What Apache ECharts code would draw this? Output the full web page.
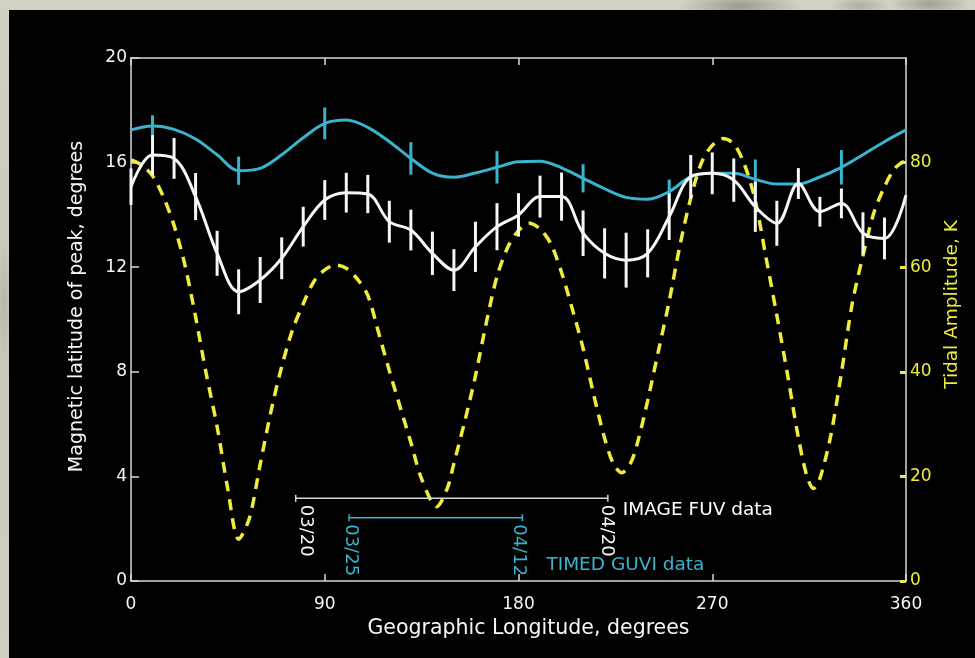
<!DOCTYPE html>
<html>
<head>
<meta charset="utf-8">
<script src="https://cdn.jsdelivr.net/npm/echarts@6/dist/echarts.min.js"></script>
<style>
  html, body { margin: 0; padding: 0; width: 975px; height: 658px; overflow: hidden; }
  body {
    background:
      radial-gradient(ellipse 60px 14px at 740px 6px, rgba(90,88,80,0.45), transparent),
      radial-gradient(ellipse 40px 12px at 930px 4px, rgba(90,88,80,0.4), transparent),
      radial-gradient(ellipse 30px 10px at 860px 6px, rgba(110,108,100,0.35), transparent),
      radial-gradient(ellipse 8px 60px at 4px 300px, rgba(150,148,138,0.35), transparent),
      linear-gradient(180deg, #d3d1c3 0%, #cac8b9 50%, #d1cfc1 100%);
  }
  #chart { position: absolute; left: 9px; top: 10px; width: 966px; height: 648px; background: #000; }
</style>
</head>
<body>
<div id="chart"></div>
<script>
// Longitude grid of the tidal-amplitude curve (degrees) and its amplitude (K)
const tidalLon = [0, 5, 10, 15, 20, 25, 30, 35, 40, 45, 50, 55, 60, 65, 70, 75, 80, 85, 90, 95,
  100, 105, 110, 115, 120, 125, 130, 135, 142, 147, 150, 155, 160, 165, 170, 175, 180, 185, 190,
  195, 200, 205, 210, 215, 220, 224, 228, 232, 235, 240, 245, 250, 255, 260, 265, 270, 275, 280,
  285, 290, 295, 300, 305, 310, 314, 317, 320, 325, 330, 335, 340, 345, 350, 355, 360];
const tidalAmp = [80.5, 79.5, 77.5, 73.5, 68, 60.5, 50.5, 39.5, 29.5, 17.5, 8, 12, 22.3, 32.4, 41, 48, 53, 57.3, 59.5, 60.4,
  59.8, 57.8, 54.6, 47.5, 40.2, 33.3, 26.5, 19.5, 14.2, 17.8, 22.5, 30.5, 39.2, 49.3, 58.2, 63.8, 67, 68.4, 67.3,
  64.5, 59, 52, 44.5, 35.5, 27.3, 22.5, 20.7, 22.5, 26, 34.5, 44, 53.5, 64.2, 73.2, 80, 83.3, 84.6, 83.6,
  79.6, 72.7, 61.8, 50.8, 39.4, 27.4, 20, 17.7, 19.6, 27.7, 39.8, 53, 62.2, 70.3, 75.4, 79, 80.5];

// TIMED GUVI peak latitude (degrees), every 10 degrees of longitude
const guviLon = [0, 10, 20, 30, 40, 50, 60, 70, 80, 90, 100, 110, 120, 130, 140, 150, 160, 170, 180,
  190, 200, 210, 220, 230, 240, 250, 260, 270, 280, 290, 300, 310, 320, 330, 340, 350, 360];
const guviLat = [17.25, 17.4, 17.27, 16.9, 16.3, 15.69, 15.78, 16.3, 16.95, 17.5, 17.63, 17.35, 16.8, 16.16,
  15.6, 15.44, 15.6, 15.82, 16.03, 16.05, 15.8, 15.4, 15.0, 14.67, 14.6, 14.89, 15.46, 15.59, 15.59,
  15.36, 15.18, 15.18, 15.45, 15.82, 16.3, 16.8, 17.25];
// GUVI error bars: longitude, half-width
const guviErrLon = [10, 50, 90, 130, 170, 210, 250, 290, 330];
const guviErr = [0.41, 0.54, 0.61, 0.62, 0.62, 0.54, 0.46, 0.76, 0.66];

// IMAGE FUV peak latitude (degrees), every 10 degrees of longitude
const fuvLon = [0, 10, 20, 30, 40, 50, 60, 70, 80, 90, 100, 110, 120, 130, 140, 150, 160, 170, 180,
  190, 200, 210, 220, 230, 240, 250, 260, 270, 280, 290, 300, 310, 320, 330, 340, 350, 360];
const fuvLat = [15.08, 16.29, 16.16, 14.7, 12.53, 11.06, 11.51, 12.34, 13.55, 14.57, 14.85, 14.8, 13.74, 13.42,
  12.53, 11.89, 12.78, 13.55, 14.0, 14.7, 14.7, 13.3, 12.53, 12.27, 12.53, 13.93, 15.46, 15.59, 15.33,
  14.31, 13.68, 15.2, 14.12, 14.44, 13.3, 13.1, 14.76];
// FUV error half-widths (no bar at 360)
const fuvErr = [0.7, 0.76, 0.78, 0.9, 0.86, 0.86, 0.88, 0.8, 0.76, 0.76, 0.76, 0.73, 0.8, 0.78,
  0.83, 0.8, 0.96, 0.9, 0.83, 0.8, 0.92, 0.87, 0.96, 1.05, 0.92, 0.89, 0.83, 0.8, 0.83,
  0.96, 0.86, 0.59, 0.57, 0.57, 0.8, 0.8, null];

// Observation periods shown along the bottom
const fuvSpan = [76.5, 221.5];
const fuvSpanLat = 3.16;
const fuvDates = ['03/20', '04/20'];
const fuvName = 'IMAGE FUV data';
const guviSpan = [101.3, 181.8];
const guviSpanLat = 2.42;
const guviDates = ['03/25', '04/12'];
const guviName = 'TIMED GUVI data';

// Axis tick values
const lonTicks = [0, 90, 180, 270, 360];
const latTicks = [0, 4, 8, 12, 16, 20];
const ampTicks = [0, 20, 40, 60, 80];

const WHITE = '#f6f6f6';
const CYAN = '#38b4cf';
const YELLOW = '#efec3c';
const FRAME = '#d6d6d6';
const FONT = 'DejaVu Sans';

function pairs(xs, ys) { return xs.map((x, i) => [x, ys[i]]); }
function errData(xs, ys, es) {
  const out = [];
  xs.forEach((x, i) => { if (es[i] != null) out.push([x, ys[i] - es[i], ys[i] + es[i]]); });
  return out;
}
function errRenderer(color, width) {
  return function (params, api) {
    const a = api.coord([api.value(0), api.value(1)]);
    const b = api.coord([api.value(0), api.value(2)]);
    return { type: 'line', shape: { x1: a[0], y1: a[1], x2: b[0], y2: b[1] },
      style: { stroke: color, lineWidth: width } };
  };
}
function guviAt(lon) { return guviLat[guviLon.indexOf(lon)]; }
// end points of a period bar, with the date written downwards under each end
function spanPoints(span, lat, dates, shifts) {
  return span.map((x, i) => ({ value: [x, lat], label: { formatter: dates[i], position: [shifts[i], 10] } }));
}

const chart = echarts.init(document.getElementById('chart'), null, { renderer: 'canvas' });

const dateLabel = (color) => ({
  show: true, rotate: -90, align: 'left', verticalAlign: 'middle',
  color: color, fontSize: 18, fontFamily: FONT
});

const option = {
  backgroundColor: '#000',
  animation: false,
  grid: { left: 122, right: 69, top: 48, bottom: 77 },
  xAxis: [{
    type: 'value', min: lonTicks[0], max: lonTicks[lonTicks.length - 1], interval: 90,
    position: 'bottom',
    name: 'Geographic Longitude, degrees', nameLocation: 'middle', nameGap: 37,
    nameTextStyle: { color: WHITE, fontSize: 20.5, fontFamily: FONT, padding: [0, 0, 0, 20] },
    axisLine: { show: true, onZero: false, lineStyle: { color: FRAME, width: 1.5 } },
    axisTick: { show: true, inside: true, length: 7, lineStyle: { color: FRAME, width: 1.5 } },
    axisLabel: { color: WHITE, fontSize: 17, fontFamily: FONT, margin: 15 },
    splitLine: { show: false }
  }, {
    type: 'value', min: 0, max: 360, interval: 90, position: 'top',
    axisLine: { show: true, onZero: false, lineStyle: { color: FRAME, width: 1.5 } },
    axisTick: { show: true, inside: true, length: 7, lineStyle: { color: FRAME, width: 1.5 } },
    axisLabel: { show: false }, splitLine: { show: false }
  }],
  yAxis: [{
    type: 'value', min: latTicks[0], max: latTicks[latTicks.length - 1], interval: 4,
    position: 'left',
    name: 'Magnetic latitude of peak, degrees', nameLocation: 'middle', nameGap: 44, nameRotate: 90,
    nameTextStyle: { color: WHITE, fontSize: 19, fontFamily: FONT, padding: [0, 0, 0, 26] },
    axisLine: { show: true, onZero: false, lineStyle: { color: FRAME, width: 1.5 } },
    axisTick: { show: true, inside: true, length: 8, lineStyle: { color: FRAME, width: 1.5 } },
    axisLabel: { color: WHITE, fontSize: 17, fontFamily: FONT, margin: 4 },
    splitLine: { show: false }
  }, {
    type: 'value', min: ampTicks[0], max: 100, interval: 20,
    position: 'right',
    name: 'Tidal Amplitude, K', nameLocation: 'middle', nameGap: 22, nameRotate: 90,
    nameTextStyle: { color: YELLOW, fontSize: 18.5, fontFamily: FONT, padding: [0, 0, 0, 30] },
    axisLine: { show: true, onZero: false, lineStyle: { color: FRAME, width: 1.5 } },
    axisTick: { show: true, inside: true, length: 6, lineStyle: { color: YELLOW, width: 3 } },
    axisLabel: { color: YELLOW, fontSize: 17, fontFamily: FONT, margin: 4, showMaxLabel: false },
    splitLine: { show: false }
  }],
  series: [
    {
      name: 'Tidal amplitude', type: 'line', xAxisIndex: 0, yAxisIndex: 1,
      data: pairs(tidalLon, tidalAmp), smooth: 0.3, symbol: 'none',
      lineStyle: { color: YELLOW, width: 3.5, type: [11, 8] }, z: 2
    },
    {
      name: 'TIMED GUVI', type: 'line', yAxisIndex: 0,
      data: pairs(guviLon, guviLat), smooth: 0.35, symbol: 'none',
      lineStyle: { color: CYAN, width: 3 }, z: 3
    },
    {
      name: 'TIMED GUVI error', type: 'custom', yAxisIndex: 0,
      data: errData(guviErrLon, guviErrLon.map(guviAt), guviErr),
      renderItem: errRenderer(CYAN, 3), z: 3
    },
    {
      name: 'IMAGE FUV', type: 'line', yAxisIndex: 0,
      data: pairs(fuvLon, fuvLat), smooth: 0.35, symbol: 'none',
      lineStyle: { color: WHITE, width: 3 }, z: 4
    },
    {
      name: 'IMAGE FUV error', type: 'custom', yAxisIndex: 0,
      data: errData(fuvLon, fuvLat, fuvErr),
      renderItem: errRenderer(WHITE, 3), z: 4
    },
    {
      name: 'FUV period', type: 'line', yAxisIndex: 0,
      data: spanPoints(fuvSpan, fuvSpanLat, fuvDates, [11, 0]),
      symbol: 'rect', symbolSize: [1.5, 7], itemStyle: { color: FRAME },
      lineStyle: { color: FRAME, width: 1.5 },
      label: dateLabel(WHITE), z: 5
    },
    {
      name: 'GUVI period', type: 'line', yAxisIndex: 0,
      data: spanPoints(guviSpan, guviSpanLat, guviDates, [2, -3]),
      symbol: 'rect', symbolSize: [1.5, 7], itemStyle: { color: CYAN },
      lineStyle: { color: CYAN, width: 1.5 },
      label: dateLabel(CYAN), z: 5
    },
    {
      name: 'Period names', type: 'scatter', yAxisIndex: 0, symbolSize: 0,
      itemStyle: { opacity: 1 },
      data: [
        { value: [fuvSpan[1], fuvSpanLat], label: { color: '#ffffff', position: [15, 12] }, name: fuvName },
        { value: [guviSpan[1], guviSpanLat], label: { color: CYAN, position: [24, 47] }, name: guviName }
      ],
      label: { show: true, formatter: p => p.name, fontSize: 18.5, fontFamily: FONT,
        align: 'left', verticalAlign: 'middle' },
      z: 5
    }
  ]
};
chart.setOption(option);
</script>
</body>
</html>
